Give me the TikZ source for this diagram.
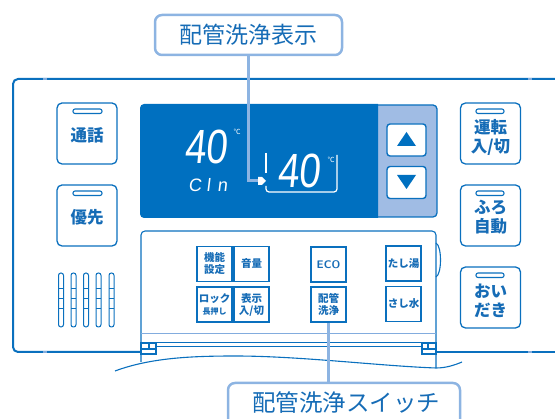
\documentclass[tikz,border=0pt]{standalone}
\usepackage{fontspec}
\setmainfont{Liberation Sans}
\newfontfamily\jp{Noto Sans CJK JP}
\newfontfamily\seg{Liberation Sans}[FakeSlant=0.12]
\definecolor{blu}{RGB}{10,112,190}
\definecolor{txt}{RGB}{22,108,182}
\definecolor{lbl}{RGB}{141,180,226}
\definecolor{disp}{RGB}{0,112,192}
\definecolor{pan}{RGB}{160,188,228}
\definecolor{lightline}{RGB}{130,172,222}
\tikzset{
  frame/.style={draw=blu, line width=2},
  thinline/.style={draw=blu, line width=1.1},
  sidebtn/.style={draw=blu, line width=1.3, fill=white, rounded corners=5, minimum width=60, minimum height=61, inner sep=0},
  sidetxt/.style={text=txt, font=\jp\bfseries\fontsize{16.5}{19}\selectfont, align=center, inner sep=0},
  pill/.style={draw=blu, line width=1.1, rounded corners=2},
  keybtn/.style={draw=blu, line width=1.4, fill=white, minimum size=35, inner sep=0, text=txt, align=center, font=\jp\bfseries\fontsize{10.5}{12}\selectfont},
  arrowbtn/.style={draw=blu, line width=1.4, fill=white, rounded corners=3, minimum width=39, minimum height=32, inner sep=0},
  lblbox/.style={draw=lbl, line width=2.5, rounded corners=7, fill=white, text=txt, font=\jp\fontsize{23}{26}\selectfont, minimum width=187, minimum height=40, inner sep=0},
  lbltext/.style={text=txt, font=\jp\fontsize{23.5}{26}\selectfont, inner sep=0},
  callout/.style={draw=lbl, line width=3},
  digit/.style={text=white, font=\seg\fontsize{48}{48}\selectfont, xscale=0.8, inner sep=0},
  degc/.style={text=white, font=\jp\fontsize{7}{7}\selectfont, inner sep=0},
}
\begin{document}
\begin{tikzpicture}[x=1pt,y=-1pt]
\useasboundingbox (0,0) rectangle (555,419);
% outer frame
\draw[frame, rounded corners=5] (555,79) -- (13,79) -- (13,352) -- (141,352);
\draw[frame] (436,352) -- (555,352);
\foreach \xx in {45,530} {
  \draw[lightline, line width=2] (\xx-2,79) -- (\xx+2,79);
  \draw[lightline, line width=2] (\xx-2,352) -- (\xx+2,352);
}
% lid
\draw[thinline, rounded corners=4] (141,362) -- (141,231) -- (436,231) -- (436,368);
\draw[thinline] (436,243) .. controls (442,246) and (442,274) .. (436,277);
\draw[lightline, line width=1] (141,334) -- (436,334);
\draw[thinline] (141,342.5) -- (436,342.5);
\draw[blu, line width=1.8] (156,346.5) -- (422,346.5);
\draw[thinline] (141,343) rectangle (156,354);
\draw[thinline] (149,343) -- (149,349) (141,349) -- (156,349);
\draw[thinline] (422,343) rectangle (436,354);
\draw[thinline] (428,343) -- (428,349) (422,349) -- (436,349);
\draw[thinline] (115,371) .. controls (150,358) and (190,356) .. (235,356)
  .. controls (300,356) and (380,366) .. (436,368)
  .. controls (446,368) and (455,365) .. (462,362);
% display
\draw[blu, line width=1.3, fill=pan, rounded corners=4] (360,105) rectangle (437,217);
\fill[disp] (378,104) [rounded corners=4] -- (140,104) -- (140,218) [sharp corners] -- (378,218) -- cycle;
\node[arrowbtn] (up) at (406.5,140) {};
\node[arrowbtn] (dn) at (406.5,182.5) {};
\fill[disp] (397,146) -- (416,146) -- (406.5,132) -- cycle;
\fill[disp] (397,175) -- (416,175) -- (406.5,189) -- cycle;
\node[digit] (d1) at (206,147) {40};
\node[degc] (c1) at (237,132) {℃};
\node[text=white, font=\seg\fontsize{18}{18}\selectfont, inner sep=0] (cln) at (208,185) {C\hspace{5pt}l\hspace{7pt}n};
\node[digit] (d2) at (299,171) {40};
\node[degc] (c2) at (331,160) {℃};
\draw[white, line width=1.2] (266,153) -- (266,173);
\draw[white, line width=1.2, rounded corners=3] (266,186) -- (266,192) -- (337,192) -- (337,155);
\coordinate (arr) at (258,181);
% left buttons
\node[sidebtn] (b1) at (87,133.5) {};
\node[sidetxt] (b1t) at (87,135) {通話};
\draw[pill] (73,109) rectangle (102,113.5);
\node[sidebtn] (b2) at (87,215.5) {};
\node[sidetxt] (b2t) at (87,217) {優先};
\draw[pill] (73,191) rectangle (102,195.5);
\foreach \xx in {61,73.5,86,98.5,111.5} {
  \draw[blu, line width=1, rounded corners=2.4] (\xx-2.5,273) rectangle (\xx+2.5,327);
  \foreach \yy in {288,298,308} \draw[blu, line width=0.8] (\xx-2.5,\yy) -- (\xx+2.5,\yy);
}
% right buttons
\node[sidebtn] (r1) at (490.5,133.5) {};
\node[sidetxt] (r1t) at (490.5,137.5) {運転\\入/切};
\draw[pill] (476,109) rectangle (504,113.5);
\node[sidebtn] (r2) at (490.5,215.5) {};
\node[sidetxt] (r2t) at (490.5,217.5) {ふろ\\自動};
\draw[pill] (476,191) rectangle (504,195.5);
\node[sidebtn] (r3) at (490.5,297.5) {};
\node[sidetxt] (r3t) at (490.5,300.5) {おい\\だき};
\draw[pill] (476,273) rectangle (504,277.5);
% lid keys
\node[keybtn] (k1) at (214.5,264) {機能\\設定};
\node[keybtn] (k2) at (251.5,264) {音量};
\node[keybtn] (k3) at (214.5,304.5) {ロック\\{\fontsize{8}{9}\selectfont 長押し}};
\node[keybtn] (k4) at (251.5,304.5) {表示\\入/切};
\node[keybtn, font=\sffamily\bfseries\fontsize{11}{12}\selectfont] (k5) at (328.5,264.5) {ECO};
\node[keybtn] (p) at (328.5,304.5) {配管\\洗浄};
\node[keybtn] (k7) at (403.5,263.5) {たし湯};
\node[keybtn] (k8) at (403.5,304) {さし水};
% callouts
\node[lblbox] (t) at (248.5,35) {配管洗浄表示};
\draw[callout] (t.south) -- (t.south |- arr) -- (arr);
\fill[white] (258,177) -- (262,177) -- (266,181) -- (262,185) -- (258,185) -- cycle;
\coordinate (bt) at (328.5,383);
\draw[callout] (p.south) -- (bt);
\draw[draw=lbl, line width=2.5, rounded corners=7] (228,430) -- (228,383) -- (460,383) -- (460,430);
\node[lbltext] (b) at (346,403) {配管洗浄スイッチ};
\end{tikzpicture}
\end{document}
